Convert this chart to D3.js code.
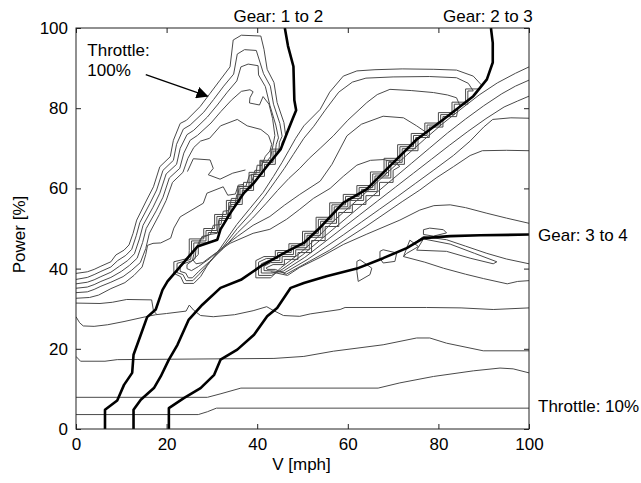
<!DOCTYPE html>
<html>
<head>
<meta charset="utf-8">
<script src="https://cdn.jsdelivr.net/npm/d3@7"></script>
<style>
  body { margin: 0; background: #fff; }
  svg text { font-family: "Liberation Sans", Arial, sans-serif; }
</style>
</head>
<body>
<svg id="chart" width="641" height="483"></svg>
<script>
// axis ticks
const tickValues = [0, 20, 40, 60, 80, 100];

// gear shift lines [V mph, Power %]
const gear12 = [[6.4,0],[6.4,4.8],[9.1,7.1],[10.6,11],[12.4,14],[12.7,18.5],[14.3,23.5],[15.7,27.9],[17.6,29.8],[19.1,34.7],[20.2,36.8],[24.6,42.6],[26.8,45.5],[31.2,47.2],[31.9,49.8],[34.1,53.9],[37.1,58.9],[39.3,61.4],[42.2,65.6],[45.2,69.8],[46.6,73.9],[47.7,77],[48.6,79.5],[48.2,82],[48,90.4],[46.8,95.5],[46.1,100]];
const gear23 = [[12.7,0],[12.7,4.8],[14.3,7.3],[17.2,10.2],[18.7,13.1],[20.5,17.3],[22.4,21],[24.9,27.3],[27.9,31],[31.9,35.2],[36.4,37.2],[40.8,40.6],[46.6,44.3],[50.3,46.4],[53.5,49.8],[59,56.4],[64.2,59.8],[68.6,64.8],[75.2,72.2],[81.1,77.2],[87.7,83],[90.7,87.2],[92,91.4],[92,96.3],[91.6,100]];
const gear34 = [[20.5,0],[20.5,5.2],[23.8,7.7],[27.5,10.2],[30.5,13.5],[31.9,17.3],[35.6,19.8],[39.3,23.5],[42.2,28.1],[44.4,30.2],[47.4,35.2],[50.3,36.4],[55.3,38.1],[62,40],[67.8,42.6],[73,45.1],[76.7,47.6],[82.6,48.1],[89.2,48.3],[100,48.5]];

// throttle contours, low part
const throttle10 = [[0,3.6],[27,3.6],[29,4.3],[31,5.2],[100,5.2]];
const throttle20 = [[0,7.9],[29,7.9],[32,8.8],[36.4,10.2],[66.7,10.2],[71.5,11.5],[78.9,13.1],[87.7,14.5],[93.6,15.2],[96.5,15],[100,14]];
const throttle30 = [[0,18.1],[1,16.9],[6.4,16.9],[9.1,17.3],[43.7,17.6],[50.3,18.1],[56.8,19.4],[67.8,21],[75.2,22.7],[78.1,22.7],[81.8,21.4],[89.9,19.5],[100,19.5]];
const throttle40 = [[0,28],[0.8,26.5],[1.6,25.7],[4,25.6],[7,26],[10.6,26.8],[15.4,28],[17.6,28.5],[20,28.8],[24.3,29.4],[25,30.9],[26,29.6],[27.5,28.3],[30.3,28],[35,28.5],[39.1,29.5],[42.1,30.5],[43.5,29.6],[45.8,28.3],[49.4,28.1],[51.7,28.7],[58.3,29.8],[59.4,30.3],[77.4,30.3],[85,30.2],[92.1,29.8],[100,30.2]];
const throttle50Spur = [[0,31.4],[5.3,31.3],[8,31.6],[11.2,32.3],[16.7,32.2],[17.1,29.5],[17.8,28.6]];

// throttle contours that fold along the gear shift lines
const contour100 = [[0,38.8],[2.5,39.2],[4,39.8],[5.5,40.6],[7.7,41.7],[8.8,43.4],[10.6,44.6],[11.7,45.9],[12.6,48.8],[13.4,52.1],[15.6,57.1],[17.1,60.4],[18.5,65.4],[20.8,67.9],[21.5,72],[23,76.2],[24.4,77],[27.4,80.4],[29.6,83.7],[31.8,87],[34,90.3],[34.7,97],[36.5,98.2],[40.8,98],[41.5,94.7],[42.2,89.7],[43.7,86.4],[44.4,81.4],[45.9,76.4],[46.3,73],[45.5,71.5],
  [45.3,69.8],[43,69.8],[43,67],[40.6,67],[40.6,64],[38.2,64],[38.2,60.5],[35.7,60.5],[35.7,57],[33.2,57],[33.2,53.5],[30.6,53.5],[30.6,50],[28.2,50],[28.2,47.4],[25,47.4],[25,44.5],
  [24.9,42.6],[21.6,41.7],[21.6,38.8],[23.1,38],[23.8,36.3],[26,36.3],[27.5,38],
  [29,40.8],[31.8,45],[35.5,51],[38.4,55],[41.3,59],[43.6,63],[45.5,66.5],[47,69.5],[48.5,72.5],[50.3,75.6],
  [53.9,79.7],[56,84],[59,88],[62,89.3],[66,89.6],[72,89.8],[79,89.7],[84,89.5],[87.7,88],[89.5,85.8],[89.2,84.8],
  [86,84.8],[86,81.5],[83,81.5],[83,78.9],[80,78.9],[80,76.3],[77,76.3],[77,73.7],[74,73.7],[74,70.9],[71,70.9],[71,67.5],[68,67.5],[68,64.1],[65,64.1],[65,60.7],[62,60.7],[62,58.5],[59,58.5],[59,56.4],[56,56.4],[56,52.8],[53,52.8],[53,49.3],[50,49.3],[50,46.2],[47,46.2],[47,44.5],[44,44.5],[44,43],[41.5,43],
  [39.7,42],[39.7,37.7],[43,37.7],[45.2,40.2],
  [49.6,44],[53.5,48],[57,52],[61,56],[65,60],[69,64.2],[73,68.3],[77,72.3],[81,76.2],[85,79.8],[89,83.3],[93,86.3],[97,88.7],[100,90.3]];

const contour90 = [[0,37.3],[2.5,37.8],[4,38.5],[5.5,39.3],[7.7,40.4],[9.2,42],[11,43.3],[12.3,44.8],[13.3,48.2],[14.1,51.5],[16.3,56.2],[17.8,59.6],[19.2,64.5],[21.5,67],[22.2,71],[23.7,74.8],[25.2,75.8],[28.2,79],[30.4,82.2],[32.6,85.5],[34.8,88.5],[35.6,93.5],[37.2,94.6],[39.8,94.4],[40.6,91.5],[41.4,88.6],[42.9,85.5],[43.6,81],[45,76.2],[45.5,73],[44.9,71.5],
  [44.8,69.3],[43.5,69.3],[43.5,66.5],[41.1,66.5],[41.1,63.5],[38.7,63.5],[38.7,60],[36.2,60],[36.2,56.5],[33.7,56.5],[33.7,53],[31.1,53],[31.1,49.5],[28.7,49.5],[28.7,46.9],[25.5,46.9],[25.5,44],
  [25.3,42.3],[22.3,41.3],[22.3,39],[23.6,38.5],[24.3,37],[25.8,37],[27.2,38.6],
  [29.3,41.3],[32.2,45],[35.6,50],[38.8,54],[41.6,58],[44,61.8],[46,65],[48,68.5],[50.3,72.5],
  [52.5,75.5],[55,79.5],[58,84],[61,86.5],[64,87.5],[70,87.8],[78,87.9],[84,87.6],[86.6,86.2],[87.7,84.3],
  [86.5,84.3],[86.5,81],[83.5,81],[83.5,78.4],[80.5,78.4],[80.5,75.8],[77.5,75.8],[77.5,73.2],[74.5,73.2],[74.5,70.4],[71.5,70.4],[71.5,67],[68.5,67],[68.5,63.6],[65.5,63.6],[65.5,60.2],[62.5,60.2],[62.5,58],[59.5,58],[59.5,55.9],[56.5,55.9],[56.5,52.3],[53.5,52.3],[53.5,48.8],[50.5,48.8],[50.5,45.7],[47.5,45.7],[47.5,44],[44.5,44],[44.5,42.5],[42,42.5],
  [40.3,41.6],[40.3,38.3],[43.2,38.3],[45.5,39.8],
  [50,43.4],[54,47.2],[58,51],[62,54.8],[66,58.6],[70,62.4],[74,66.2],[78,70],[82,73.8],[86,77.3],[90,80.6],[94,83.6],[97,85.5],[100,87]];

const contour80 = [[0,36.2],[2.5,36.6],[4,37.2],[5.5,38],[7.7,39.1],[9.6,40.6],[11.4,42],[12.9,43.7],[14,47.4],[14.8,50.8],[17,55.3],[18.5,58.8],[19.9,63.6],[22.2,66],[23,70],[24.5,73.4],[26,74.5],[29,77.8],[31.2,80.8],[33.4,84],[35.5,86.8],[36.4,90.3],[38,91],[40.2,90.6],[40.3,88.3],[41.8,85.4],[42.8,80.7],[44.1,75.8],[44.7,72.6],[44.2,71],
  [44,68.8],[44,66],[41.6,66],[41.6,63],[39.2,63],[39.2,59.5],[36.7,59.5],[36.7,56],[34.2,56],[34.2,52.5],[31.6,52.5],[31.6,49],[29.2,49],[29.2,46.4],[26,46.4],[26,43.5],
  [25.7,42],[23,40.9],[23,39.3],[24.2,38.9],[24.8,37.7],[25.7,37.7],[27,39.2],
  [29.5,41.8],[32.5,45],[35.7,49],[39,52.6],[42,56.3],[44.5,59.5],[47,62.5],[49.4,65],
  [51.5,67.5],[53.9,70],[56.8,73.1],[60,77],[64.2,81.4],[66.5,83.4],[69.3,84.7],[74,84.4],[78.9,83.9],[82,83.3],[84,82.6],[84.8,80.5],[84.3,79.8],
  [84,77.9],[81,77.9],[81,75.3],[78,75.3],[78,72.7],[75,72.7],[75,69.9],[72,69.9],[72,66.5],[69,66.5],[69,63.1],[66,63.1],[66,59.7],[63,59.7],[63,57.5],[60,57.5],[60,55.4],[57,55.4],[57,51.8],[54,51.8],[54,48.3],[51,48.3],[51,45.2],[48,45.2],[48,43.5],[45,43.5],[45,42],[42.5,42],
  [40.9,41.2],[40.9,38.9],[43.4,38.9],[45.8,39.4],
  [50.5,42.8],[54.5,46.3],[58.5,49.8],[62.5,53.3],[66.5,56.8],[70.5,60.3],[74.5,63.8],[78.5,67.3],[82.5,70.8],[86.5,74.2],[90.5,77.4],[94.5,80.3],[97.5,81.8],[100,83]];

const contour70 = [[0,35.1],[2.5,35.4],[4,36],[5.5,36.8],[7.7,37.8],[10,39.3],[11.8,40.8],[13.5,42.6],[14.7,46.5],[15.5,50],[17.7,54.4],[19.2,57.8],[20.6,62.6],[22.9,65],[23.8,68.8],[25.2,72],[26.8,73.2],[29.8,76.3],[32,79.2],[34.3,82],[36.5,84.2],[38.4,84.6],[39.1,84.1],[38.4,82.6],[38.3,81.3],[40.5,80.8],[41.3,82.9],[42.6,81],[43.4,77.4],[43.9,73.2],[43.5,70.8],
  [43,68],[42,66.5],[40.8,66.8],[40.8,64.5],[39.5,64.5],[38.8,61.5],[37,61.5],[36.8,58.5],[35.5,58.5],[35,55.5],[33.8,55.5],[33.2,52],[31.5,52],[31.2,48.8],[29.5,48.5],[27.5,47.5],[26.5,45],
  [26.3,42.5],[24.5,41],[24.5,40],[25.5,39.5],[27,40.5],
  [29.5,42.5],[32,45],[35.6,48],[39.1,50.8],[42.8,53],[46,55.8],[49.4,58.5],
  [53.9,61.8],[56.5,66],[59.8,73.1],[63,76],[67.8,78],[72.3,77.6],[75.2,75.6],[77.4,73.9],
  [75.5,72.2],[75.5,69.4],[72.5,69.4],[72.5,66],[69.5,66],[69.5,62.6],[66.5,62.6],[66.5,59.2],[63.5,59.2],[63.5,57],[60.5,57],[60.5,54.9],[57.5,54.9],[57.5,51.3],[54.5,51.3],[54.5,47.8],[51.5,47.8],[51.5,44.7],[48.5,44.7],[48.5,43],[45.5,43],[45.5,41.5],[43,41.5],
  [41.5,40.6],[41.5,39.5],[43.7,39.4],[46.1,39],
  [51,42.2],[55,45.3],[59,48.4],[63,51.6],[67,54.8],[71,58],[75,61.3],[79,64.6],[83.3,68.2],[87,71.8],[90,75.3],[92,77.2],[96,77.6],[100,77.5]];

const contour60 = [[0,34],[2.5,34.2],[4,34.8],[5.5,35.6],[7.7,36.6],[10.4,38],[12.3,39.6],[14.2,41.5],[15.4,45],[16.2,48.8],[18.4,53.5],[19.9,57],[21.3,61.5],[23.6,64],[24.7,67.5],[26,70.2],[27.5,71.8],[29.5,72.5],[31.9,75.6],[35.6,77.2],[37.8,75.6],[40.8,74.7],[42.5,73.2],[43.2,71],[42.8,69.3],
  [41.8,68],[41,65.7],[40,65.8],[39.7,63.5],[38.3,63.3],[37.5,60.5],[36,60.5],[35.7,57.5],[34.3,57.5],[33.8,54.5],[32.5,54.3],[32,51],[30.3,50.8],[29.7,48.5],[27.8,48],[27,45.5],
  [27,43.5],[25.8,42.2],[26.5,41.2],[28,41.5],
  [30,43.2],[34,46.3],[39.1,48.8],[42.8,49.8],[46.5,52.3],[49.4,54.8],
  [52.4,57.5],[56.1,60],[59,63],[62,65.8],[65,67],[68,67.2],[70.5,66.3],[71.5,65.5],
  [70,64.5],[70,61.5],[67,61.5],[67,58.2],[64,58.2],[64,56],[61,56],[61,54],[58,54],[58,50.5],[55,50.5],[55,47],[52,47],[52,44],[49,44],[49,42.3],[46,42.3],[46,41],[43.5,41],
  [42,40.2],[42.2,39.8],[44,39.8],[46.4,38.6],
  [51.5,41.8],[56,44.6],[60,47.6],[64,50.5],[68,53.6],[72,56.7],[75.9,59.6],[79.5,62.6],[83.3,65.4],[87,68.2],[89.7,69.4],[95,69.5],[100,69.4]];

const contour50Lobe = [[0,32.6],[3,32.8],[5,33.4],[7.7,35],[10.8,36.5],[12.8,38.3],[14.6,40.4],[15.4,43.5],[15.8,45.8],[17,46.3],[18.7,46.4],[20.9,47.6],[21.6,50.1],[23,52.9],[28.1,56.3],[28.9,58.8],[32.5,60.4],[33.5,58.3],[35.2,58.6],[35.8,60.8],[37,61]];
const contour50Right = [[43,39.2],[46.7,38.3],[49.4,40.3],[53.9,42.8],[59,46],[64.2,48.6],[71.5,52.1],[75.9,54.6],[79,55.7],[82.6,55.9],[86,55.2],[90.7,53.8],[95,52.6],[100,51.3]];
const lobeInner = [[24.6,64.2],[25.9,67.4],[29.6,67.1],[30.3,65],[29.2,63.4],[31.8,62.3],[34.6,63.8],[37.4,64.6]];

// contours around the 3-4 shift knee
const kneeUpper = [[74,45.8],[76.7,48],[81.8,47.2],[86,45.6],[90.7,43.8],[95,42.4],[100,41.2]];
const kneeWedge = [[76.7,47.4],[82.6,46.1],[88,43.8],[92.9,41.7],[92.1,41.2],[87,42.6],[81.8,44.3],[75.2,44.6],[76.7,47.4]];
const kneeLower = [[72.3,43],[77,41.6],[81.1,40.1],[86,38.6],[90,37.5],[95.2,36.2],[97.5,36.8],[100,37]];
const loopA = [[62,41.8],[62.7,42.2],[65.3,40.1],[64.9,38.5],[62.3,36.8],[62,39.3],[62,41.8]];
const loopB = [[67.1,44.3],[67.8,44.7],[70.8,43.9],[70.4,41.8],[67.8,41.4],[67.1,42.6],[67.1,44.3]];
const loopC = [[76.7,49.7],[78.1,50.1],[81.1,49.7],[81.8,48.9],[78.9,48.1],[76.7,48.5],[76.7,49.7]];
const loopD = [[72.3,43],[73,45.1],[73.7,47.1],[75.6,45.5],[73,43.8],[72.3,43]];

const thinLines = [throttle10, throttle20, throttle30, throttle40, throttle50Spur,
  contour100, contour90, contour80, contour70, contour60, contour50Lobe, contour50Right, lobeInner,
  kneeUpper, kneeWedge, kneeLower, loopA, loopB, loopC, loopD];
const gearLines = [gear12, gear23, gear34];

const width = 641, height = 483;
const margin = { top: 28, right: 112, bottom: 54, left: 76 };

const svg = d3.select('#chart');

const x = d3.scaleLinear().domain([0, 100]).range([margin.left, width - margin.right]);
const y = d3.scaleLinear().domain([0, 100]).range([height - margin.bottom, margin.top]);

const font = '"Liberation Sans", Arial, sans-serif';

svg.append('defs').append('clipPath').attr('id', 'plot-clip')
  .append('rect')
  .attr('x', x(0)).attr('y', y(100))
  .attr('width', x(100) - x(0)).attr('height', y(0) - y(100));

const line = d3.line().x(d => x(d[0])).y(d => y(d[1]));

const plot = svg.append('g').attr('clip-path', 'url(#plot-clip)');

plot.append('g')
  .selectAll('path')
  .data(thinLines)
  .join('path')
  .attr('d', line)
  .attr('fill', 'none')
  .attr('stroke', '#4a4a4a')
  .attr('stroke-width', 1)
  .attr('stroke-linejoin', 'round');

plot.append('g')
  .selectAll('path')
  .data(gearLines)
  .join('path')
  .attr('d', line)
  .attr('fill', 'none')
  .attr('stroke', '#000')
  .attr('stroke-width', 2.6)
  .attr('stroke-linejoin', 'round');

// frame
svg.append('rect')
  .attr('x', x(0)).attr('y', y(100))
  .attr('width', x(100) - x(0)).attr('height', y(0) - y(100))
  .attr('fill', 'none').attr('stroke', '#222').attr('stroke-width', 1);

function styleAxis(g) {
  g.select('.domain').remove();
  g.attr('font-family', font).attr('font-size', 17);
  g.selectAll('line').attr('stroke', '#222');
  g.selectAll('text').attr('fill', '#000');
}

svg.append('g')
  .attr('transform', `translate(0,${y(0)})`)
  .call(d3.axisBottom(x).tickValues(tickValues).tickSizeInner(-5).tickSizeOuter(0).tickPadding(9))
  .call(styleAxis);

svg.append('g')
  .attr('transform', `translate(0,${y(100)})`)
  .call(d3.axisTop(x).tickValues(tickValues).tickSizeInner(-5).tickSizeOuter(0).tickFormat(''))
  .call(styleAxis);

svg.append('g')
  .attr('transform', `translate(${x(0)},0)`)
  .call(d3.axisLeft(y).tickValues(tickValues).tickSizeInner(-5).tickSizeOuter(0).tickPadding(8))
  .call(styleAxis);

svg.append('g')
  .attr('transform', `translate(${x(100)},0)`)
  .call(d3.axisRight(y).tickValues(tickValues).tickSizeInner(-5).tickSizeOuter(0).tickFormat(''))
  .call(styleAxis);

// axis titles
svg.append('text')
  .attr('x', (x(0) + x(100)) / 2 - 1)
  .attr('y', 470)
  .attr('text-anchor', 'middle')
  .attr('font-size', 17)
  .text('V [mph]');

svg.append('text')
  .attr('transform', `translate(25,${(y(0) + y(100)) / 2 + 6}) rotate(-90)`)
  .attr('text-anchor', 'middle')
  .attr('font-size', 17)
  .text('Power [%]');

// labels for the shift lines
const lastOf = arr => arr[arr.length - 1];
svg.append('text')
  .attr('x', x(lastOf(gear12)[0]) - 6.5).attr('y', 21.5)
  .attr('text-anchor', 'middle').attr('font-size', 17)
  .text('Gear: 1 to 2');
svg.append('text')
  .attr('x', x(lastOf(gear23)[0]) - 3).attr('y', 21.5)
  .attr('text-anchor', 'middle').attr('font-size', 17)
  .text('Gear: 2 to 3');
svg.append('text')
  .attr('x', x(100) + 9).attr('y', y(lastOf(gear34)[1]) + 6)
  .attr('font-size', 17)
  .text('Gear: 3 to 4');
svg.append('text')
  .attr('x', x(100) + 9).attr('y', y(lastOf(throttle10)[1]) + 3.5)
  .attr('font-size', 17)
  .text('Throttle: 10%');

// 100% throttle note with arrow
svg.append('defs').append('marker')
  .attr('id', 'arrow')
  .attr('viewBox', '0 0 10 10')
  .attr('refX', 9).attr('refY', 5)
  .attr('markerWidth', 12).attr('markerHeight', 12)
  .attr('markerUnits', 'userSpaceOnUse')
  .attr('orient', 'auto')
  .append('path')
  .attr('d', 'M0,0L10,5L0,10z')
  .attr('fill', '#000');

svg.append('line')
  .attr('x1', x(15.4)).attr('y1', y(88.4))
  .attr('x2', x(29)).attr('y2', y(83))
  .attr('stroke', '#000').attr('stroke-width', 1.3)
  .attr('marker-end', 'url(#arrow)');

const note = svg.append('text').attr('font-size', 17);
note.append('tspan').attr('x', x(2.5)).attr('y', 56).text('Throttle:');
note.append('tspan').attr('x', x(2.5)).attr('y', 75.5).text('100%');
</script>
</body>
</html>
